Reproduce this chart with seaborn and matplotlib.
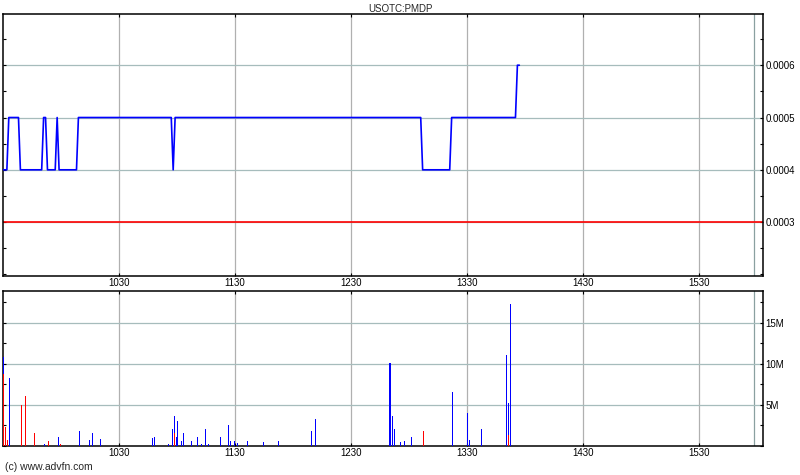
import matplotlib
matplotlib.use('Agg')
import matplotlib.pyplot as plt
from matplotlib.ticker import FixedLocator, MultipleLocator
import seaborn as sns

# price vertices, minutes after 09:30
price_times = [0, 2, 3, 8, 9, 20, 21, 22, 23, 27, 28, 29, 38, 39, 87, 88, 89,
               216, 217, 231, 232, 265, 266, 267]
price_values = [0.0004, 0.0004, 0.0005, 0.0005, 0.0004, 0.0004, 0.0005, 0.0005,
                0.0004, 0.0004, 0.0005, 0.0004, 0.0004, 0.0005, 0.0005, 0.0004,
                0.0005, 0.0005, 0.0004, 0.0004, 0.0005, 0.0005, 0.0006, 0.0006]
prev_close = 0.0003

# volume (millions), up = blue, down = red
vol_times = [0.2, 1.2, 2.2, 3.3, 9.5, 11.5, 16.2, 21.4, 23.4, 28.6, 29.6, 39.5,
             44.6, 46.2, 50.3, 77.2, 78.3, 85.5, 87.6, 88.6, 89.6, 90.2, 92.2,
             93.3, 97.4, 100.5, 102.6, 104.6, 106.2, 112.4, 116.5, 117.6, 119.6,
             121.2, 126.4, 134.6, 142.4, 159.5, 161.5, 200.2, 201.4, 202.4,
             205.5, 207.6, 211.2, 217.4, 232.4, 240.2, 241.2, 247.4, 260.3,
             261.4, 262.4]
vol_up = [2.0, 0, 0, 8.3, 0, 0, 0, 0.25, 0, 1.06, 0, 1.8,
          0.7, 1.55, 0.8, 0.9, 1.06, 0.25, 2.0, 2.1, 1.06, 3.0, 0.57,
          1.55, 0.57, 1.06, 0.25, 2.0, 0.25, 1.06, 2.5, 0.57, 0.57,
          0.33, 0.57, 0.45, 0.57, 1.8, 3.25, 10.1, 3.6, 2.0,
          0.45, 0.57, 1.06, 0, 6.55, 4.0, 0.7, 2.0, 11.1,
          3.9, 17.3]
vol_down = [8.8, 2.3, 0.7, 0, 5.0, 6.1, 1.55, 0, 0.57, 0, 0.25, 0,
            0, 0, 0, 0, 0, 0, 0, 1.5, 0, 0, 0,
            0, 0, 0, 0, 0, 0, 0, 0, 0, 0,
            0, 0, 0, 0, 0, 0, 0, 0, 0,
            0, 0, 0, 1.8, 0, 0, 0, 0, 0,
            1.3, 0]

tick_minutes = [60, 120, 180, 240, 300, 360]
tick_labels = ['1030', '1130', '1230', '1330', '1430', '1530']
price_ticks = [0.0003, 0.0004, 0.0005, 0.0006]
vol_ticks = [5, 10, 15]
vol_tick_labels = ['5M', '10M', '15M']
session_end = 388.5

sns.set_style('white')
plt.rcParams['font.family'] = ['Liberation Sans', 'DejaVu Sans']
plt.rcParams['font.size'] = 7

fig = plt.figure(figsize=(8, 4.75), dpi=100)
ax1 = fig.add_axes([0.00375, 0.419, 0.95, 0.5516])
ax2 = fig.add_axes([0.00375, 0.0617, 0.95, 0.3263])

grid_v = '#b0b0b0'
grid_h = '#a6bcbc'

for ax in (ax1, ax2):
    ax.set_xlim(0, 393)
    ax.xaxis.set_major_locator(FixedLocator(tick_minutes))
    ax.set_xticklabels(tick_labels)
    for t in tick_minutes:
        ax.axvline(t, color=grid_v, lw=0.9, zorder=0)
    ax.axvline(session_end, color='#8aa0a0', lw=0.9, zorder=0)
    for s in ax.spines.values():
        s.set_color('black')
        s.set_linewidth(1.1)
    ax.tick_params(which='both', direction='in', length=2.5, width=0.8,
                   left=True, right=True, top=True, bottom=True,
                   labelleft=False, labelright=True, pad=2, colors='black')

# price panel
ax1.set_ylim(0.000197, 0.000698)
ax1.yaxis.set_major_locator(FixedLocator(price_ticks))
ax1.yaxis.set_minor_locator(MultipleLocator(0.00005))
ax1.set_yticklabels([f'{v:.4f}' for v in price_ticks])
for v in price_ticks:
    ax1.axhline(v, color=grid_h, lw=0.9, zorder=0)
ax1.axhline(prev_close, color='red', lw=1.2, zorder=2)
sns.lineplot(x=price_times, y=price_values, ax=ax1, color='#0000ff', lw=1.2, zorder=3)
ax1.tick_params(axis='x', labelbottom=False)
ax1.set_xlabel('')
ax1.set_ylabel('')

# volume panel
ax2.set_ylim(0, 18.9)
ax2.yaxis.set_major_locator(FixedLocator(vol_ticks))
ax2.yaxis.set_minor_locator(MultipleLocator(2.5))
ax2.set_yticklabels(vol_tick_labels)
for v in vol_ticks:
    ax2.axhline(v, color=grid_h, lw=0.9, zorder=0)
ax2.bar(vol_times, vol_down, width=0.7, color='#ff0000', linewidth=0, zorder=3)
ax2.bar(vol_times, vol_up, bottom=vol_down, width=0.7, color='#0000ff', linewidth=0, zorder=3)
ax2.tick_params(axis='x', labeltop=True, labelbottom=True)

fig.text(0.5, 0.981, 'USOTC:PMDP', ha='center', va='center', fontsize=7)
fig.text(0.006, 0.017, '(c) www.advfn.com', ha='left', va='center', fontsize=7.5)

fig.savefig('out.png', dpi=100, facecolor='white')
